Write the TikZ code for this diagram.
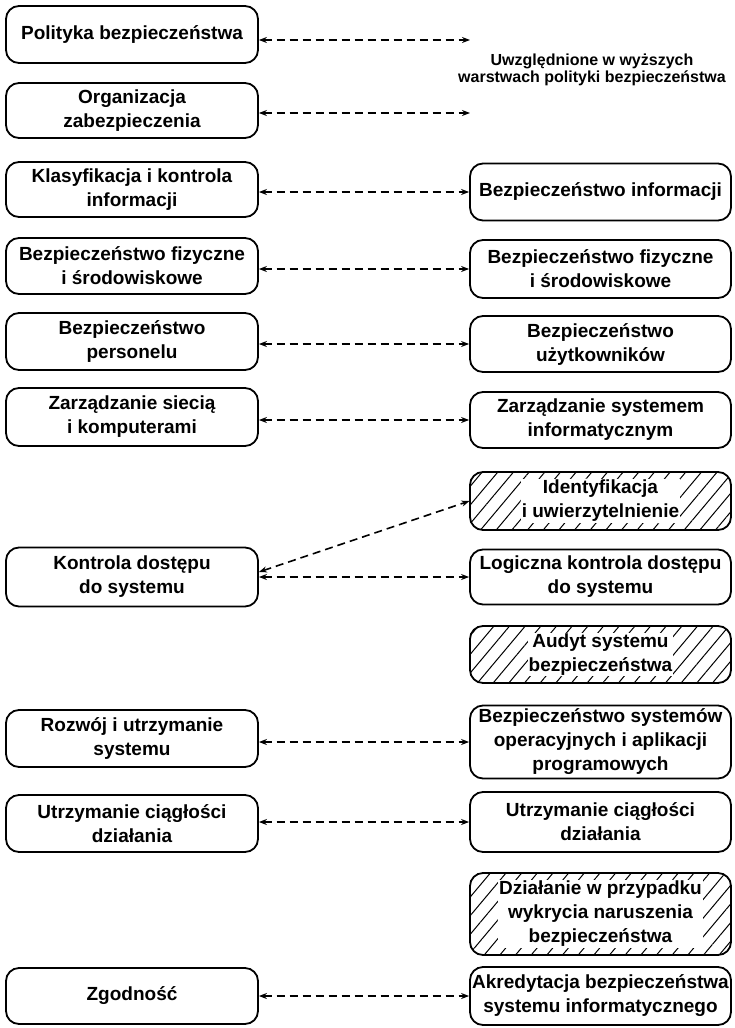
\documentclass[tikz,border=0pt]{standalone}
\usepackage{fontspec}
\setmainfont{Liberation Sans}
\usetikzlibrary{arrows.meta,patterns.meta}
\newcommand\dgboxfont{\fontsize{19}{24}\selectfont\bfseries}
\newcommand\dgnotefont{\fontsize{16}{17.5}\selectfont\bfseries}
\begin{document}
\begin{tikzpicture}[x=1pt,y=1pt,
  box/.style={draw, line width=1.8pt, rounded corners=13pt, align=center, font=\dgboxfont, inner sep=0pt},
  lbox/.style={box, minimum width=252pt},
  rbox/.style={box, minimum width=261pt},
  hatchbox/.style={rbox, pattern={Lines[angle=50,distance=12pt,line width=1pt]}},
  hatchtext/.style={fill=white, align=center, font=\dgboxfont, inner sep=1pt},
  conn/.style={line width=1.6pt, dash pattern=on 8pt off 5pt, {Stealth[length=8pt,width=6pt]}-{Stealth[length=8pt,width=6pt]}},
  note/.style={align=center, font=\dgnotefont}
]
\fill[white] (0,0) rectangle (734,-1028);
\useasboundingbox (0,0) rectangle (734,-1028);

% left column
\node[lbox, minimum height=57pt] (L1) at (132,-34.5) {Polityka bezpieczeństwa};
\node[lbox, minimum height=55pt] (L2) at (132,-110.5) {Organizacja\\zabezpieczenia};
\node[lbox, minimum height=55pt] (L3) at (132,-189.5) {Klasyfikacja i kontrola\\informacji};
\node[lbox, minimum height=56pt] (L4) at (132,-266) {Bezpieczeństwo fizyczne\\i środowiskowe};
\node[lbox, minimum height=57pt] (L5) at (132,-341.5) {Bezpieczeństwo\\personelu};
\node[lbox, minimum height=58pt] (L6) at (132,-417) {Zarządzanie siecią\\i komputerami};
\node[lbox, minimum height=59pt] (L7) at (132,-577) {Kontrola dostępu\\do systemu};
\node[lbox, minimum height=57pt] (L8) at (132,-738.5) {Rozwój i utrzymanie\\systemu};
\node[lbox, minimum height=57pt] (L9) at (132,-823.5) {Utrzymanie ciągłości\\działania};
\node[lbox, minimum height=56pt] (L10) at (132,-996) {Zgodność};

% note
\node[note] (N) at (592,-70) {Uwzględnione w wyższych\\warstwach polityki bezpieczeństwa};
\coordinate (F1) at (470,-40);
\coordinate (F2) at (470,-113);

% right column
\node[rbox, minimum height=57pt] (R1) at (600.5,-192) {Bezpieczeństwo informacji};
\node[rbox, minimum height=58pt] (R2) at (600.5,-269) {Bezpieczeństwo fizyczne\\i środowiskowe};
\node[rbox, minimum height=56pt] (R3) at (600.5,-344) {Bezpieczeństwo\\użytkowników};
\node[rbox, minimum height=56pt] (R4) at (600.5,-420) {Zarządzanie systemem\\informatycznym};
\node[hatchbox, minimum height=58pt] (R5) at (600.5,-501) {};
\node[hatchtext] (R5t) at (R5) {Identyfikacja\\i uwierzytelnienie};
\node[rbox, minimum height=55pt] (R6) at (600.5,-577) {Logiczna kontrola dostępu\\do systemu};
\node[hatchbox, minimum height=57pt] (R7) at (600.5,-654.5) {};
\node[hatchtext] (R7t) at (R7) {Audyt systemu\\bezpieczeństwa};
\node[rbox, minimum height=73pt] (R8) at (600.5,-742) {Bezpieczeństwo systemów\\operacyjnych i aplikacji\\programowych};
\node[rbox, minimum height=60pt] (R9) at (600.5,-822) {Utrzymanie ciągłości\\działania};
\node[hatchbox, minimum height=82pt] (R10) at (600.5,-914) {};
\node[hatchtext] (R10t) at (R10) {Działanie w przypadku\\wykrycia naruszenia\\bezpieczeństwa};
\node[rbox, minimum height=58pt] (R11) at (600.5,-996) {Akredytacja bezpieczeństwa\\systemu informatycznego};

% connectors
\draw[conn] (L1.east |- F1) -- (F1);
\draw[conn] (L2.east |- F2) -- (F2);
\draw[conn] (L3.east |- R1.west) -- (R1.west);
\draw[conn] (L4.east |- R2.west) -- (R2.west);
\draw[conn] (L5.east |- R3.west) -- (R3.west);
\draw[conn] (L6.east |- R4.west) -- (R4.west);
\draw[conn] ([yshift=5pt]L7.east) -- (R5.west);
\draw[conn] (L7.east) -- (R6.west);
\draw[conn] (L8.east |- R8.west) -- (R8.west);
\draw[conn] (L9.east |- R9.west) -- (R9.west);
\draw[conn] (L10.east |- R11.west) -- (R11.west);
\end{tikzpicture}
\end{document}
